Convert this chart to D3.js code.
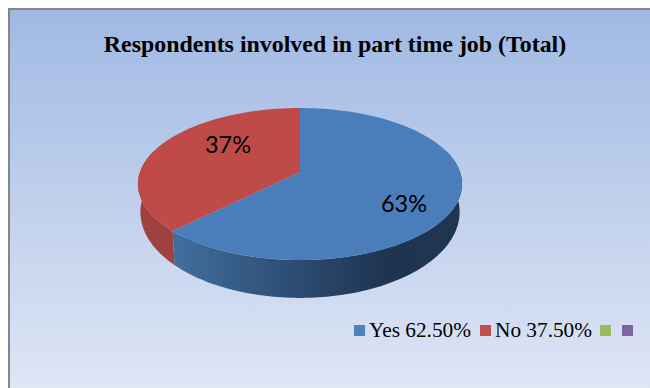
<!DOCTYPE html>
<html>
<head>
<meta charset="utf-8">
<script src="https://cdnjs.cloudflare.com/ajax/libs/d3/7.8.5/d3.min.js"></script>
<style>
html, body { margin: 0; padding: 0; background: #fff; }
svg { display: block; }
</style>
</head>
<body>
<svg id="chart" width="650" height="388"></svg>
<script>
const chartTitle = "Respondents involved in part time job (Total)";
const categories = ["Yes", "No"];
const shares = [62.5, 37.5];
const sliceLabels = ["63%", "37%"];
const legendLabels = ["Yes 62.50%", "No 37.50%", "", ""];
const legendColors = ["#4f81bd", "#c0504d", "#9bbb59", "#8064a2"];
const topColors = ["#4a7ebb", "#be4b48"];

const svg = d3.select("#chart");
const defs = svg.append("defs");

const bg = defs.append("linearGradient").attr("id", "bg")
  .attr("x1", 0).attr("y1", 0).attr("x2", 0).attr("y2", 1);
bg.append("stop").attr("offset", "0%").attr("stop-color", "#a0b9e3");
bg.append("stop").attr("offset", "100%").attr("stop-color", "#e2e8f6");

// Blue wall shading runs left to right, darkest towards the right of the rim.
const wall = defs.append("linearGradient").attr("id", "wallBlue")
  .attr("gradientUnits", "userSpaceOnUse")
  .attr("x1", 170).attr("y1", 0).attr("x2", 462).attr("y2", 0);
wall.append("stop").attr("offset", "0%").attr("stop-color", "#41709f");
wall.append("stop").attr("offset", "45%").attr("stop-color", "#2c4a70");
wall.append("stop").attr("offset", "75%").attr("stop-color", "#1e3450");
wall.append("stop").attr("offset", "100%").attr("stop-color", "#1f3550");

// The frame runs off the right and bottom of the canvas, so only two sides show.
svg.append("rect")
  .attr("x", 9).attr("y", 9).attr("width", 660).attr("height", 400)
  .attr("fill", "url(#bg)").attr("stroke", "#868686").attr("stroke-width", 2);

svg.append("text")
  .attr("x", 335).attr("y", 52)
  .attr("text-anchor", "middle")
  .attr("font-family", "'Liberation Serif', serif")
  .attr("font-weight", "bold").attr("font-size", 23.9)
  .attr("fill", "#000")
  .text(chartTitle);

// Tilted disc: unit circle projected with a small perspective term.
const cx = 300, apexY = 172, tilt = 0.158, scaleU = 160, scaleV = 74.1;
const discMidY = 184, lowerMidY = 212, lowerU = 0.985, lowerV = 1.13;
const xScale = d3.scaleLinear().domain([-1, 1]).range([cx - scaleU, cx + scaleU]);
const yScale = d3.scaleLinear().domain([-1, 1]).range([apexY - scaleV, apexY + scaleV]);

function project(angle) {
  const u = Math.sin(angle), v = -Math.cos(angle), w = 1 - tilt * v;
  return [xScale(u / w), yScale(v / w)];
}

// Lower rim of the wall: the same outline, slightly narrower and deeper.
function projectLower(angle) {
  const [x, y] = project(angle);
  return [cx + (x - cx) * lowerU, lowerMidY + (y - discMidY) * lowerV];
}

const arcs = d3.pie().sort(null)(shares);
const line = d3.line();
const ticks = (a, b) => d3.range(0, 121).map(i => a + (b - a) * i / 120);

function topPath(d) {
  return line([[cx, apexY], ...ticks(d.startAngle, d.endAngle).map(project)]) + "Z";
}

function wallPath(a0, b0) {
  const a = Math.max(a0, Math.PI / 2 - 0.3), b = Math.min(b0, 3 * Math.PI / 2 + 0.3);
  return line([...ticks(a, b).map(project), ...ticks(b, a).map(projectLower)]) + "Z";
}

svg.append("path").attr("d", wallPath(arcs[1].startAngle, arcs[1].endAngle)).attr("fill", "#9f413e");
svg.append("path").attr("d", wallPath(arcs[0].startAngle, arcs[0].endAngle)).attr("fill", "url(#wallBlue)");

svg.selectAll("path.top").data(arcs).join("path")
  .attr("class", "top")
  .attr("d", topPath)
  .attr("fill", (d, i) => topColors[i]);

// Value labels sit inside the slices, one per category.
const labelAt = [[404, 212], [228, 153]];
svg.selectAll("text.value").data(categories).join("text")
  .attr("class", "value")
  .attr("x", (d, i) => labelAt[i][0]).attr("y", (d, i) => labelAt[i][1])
  .attr("text-anchor", "middle")
  .attr("font-family", "Lato, sans-serif")
  .attr("font-size", 23.5)
  .attr("fill", "#000")
  .text((d, i) => sliceLabels[i]);

// Legend row with two empty trailing entries.
const legendX = [354, 480, 600, 622];
const legend = svg.selectAll("g.entry").data(legendLabels).join("g")
  .attr("class", "entry")
  .attr("transform", (d, i) => `translate(${legendX[i]},325)`);
legend.append("rect").attr("width", 11).attr("height", 11).attr("fill", (d, i) => legendColors[i]);
legend.append("text")
  .attr("x", 15).attr("y", 12)
  .attr("font-family", "'Liberation Serif', serif")
  .attr("font-size", 21.3)
  .attr("fill", "#000")
  .text(d => d);
</script>
</body>
</html>
